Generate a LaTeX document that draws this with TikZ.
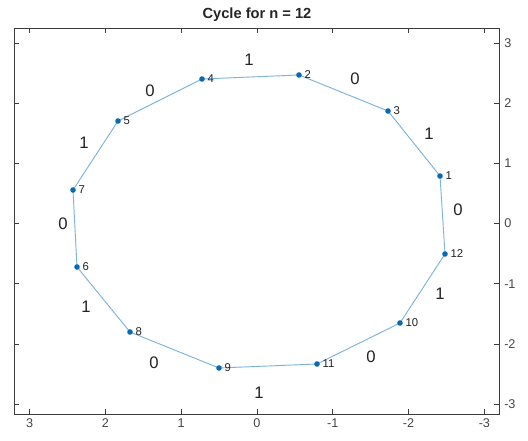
\documentclass[tikz,border=0pt]{standalone}
\usepackage{fontspec}
\setmainfont{Liberation Sans}
\definecolor{edgec}{RGB}{125,180,222}
\definecolor{nodec}{RGB}{10,105,175}
\definecolor{axc}{RGB}{60,60,60}
\definecolor{tickc}{RGB}{70,70,70}
\definecolor{labc}{RGB}{35,35,35}
\begin{document}
\begin{tikzpicture}[x=0.75pt,y=-0.75pt,
  vert/.style={circle,fill=nodec,inner sep=0pt,minimum size=4.2pt},
  vlab/.style={font=\fontsize{8.5}{9}\selectfont,text=labc,inner sep=1pt},
  edge/.style={draw=edgec,line width=0.7pt},
  elab/.style={font=\fontsize{12.5}{14}\selectfont,text=labc,inner sep=0pt},
  ticklab/.style={font=\fontsize{9.5}{11}\selectfont,text=tickc,inner sep=0pt},
  axis/.style={draw=axc,line width=0.55pt}]
\useasboundingbox (0,0) rectangle (528,441);
\fill[white] (0,0) rectangle (528,441);
% title
\node[font=\bfseries\fontsize{11}{13}\selectfont,text=black!85] (title) at (257,15) {Cycle for n = 12};
% axes box
\draw[axis] (14,28) rectangle (499,414);
\foreach \d in {-3,...,3}{
  \pgfmathsetmacro{\px}{257-75.8*\d}
  \pgfmathsetmacro{\py}{223.5-60.2*\d}
  \draw[axis] (\px,414) -- (\px,409);
  \draw[axis] (\px,28) -- (\px,33);
  \draw[axis] (14,\py) -- (19,\py);
  \draw[axis] (499,\py) -- (494,\py);
  \node[ticklab] at (\px,423) {\d};
  \node[ticklab,anchor=west] at (504,\py) {\d};
}
% vertex positions
\coordinate (p1) at (440,176);
\coordinate (p2) at (299,75);
\coordinate (p3) at (388,111);
\coordinate (p4) at (202,79);
\coordinate (p5) at (118,121);
\coordinate (p6) at (77,267);
\coordinate (p7) at (73,190);
\coordinate (p8) at (130,332);
\coordinate (p9) at (219,368);
\coordinate (p10) at (400,323);
\coordinate (p11) at (317,364);
\coordinate (p12) at (445,254);
% edges
\draw[edge] (p1) -- (p3) -- (p2) -- (p4) -- (p5) -- (p7) -- (p6) -- (p8) -- (p9) -- (p11) -- (p10) -- (p12) -- cycle;
% vertices
\foreach \i in {1,...,12}{
  \node[vert] (v\i) at (p\i) {};
  \node[vlab,anchor=west] (l\i) at ([xshift=3pt]p\i) {\i};
}
% edge labels
\node[elab] (e1) at (249,60) {1};
\node[elab] (e2) at (355,79) {0};
\node[elab] (e3) at (429,134) {1};
\node[elab] (e4) at (458,210) {0};
\node[elab] (e5) at (440,294) {1};
\node[elab] (e6) at (371,357) {0};
\node[elab] (e7) at (259,393) {1};
\node[elab] (e8) at (154,363) {0};
\node[elab] (e9) at (86,307) {1};
\node[elab] (e10) at (63,224) {0};
\node[elab] (e11) at (84,143) {1};
\node[elab] (e12) at (150,91) {0};
\end{tikzpicture}
\end{document}
